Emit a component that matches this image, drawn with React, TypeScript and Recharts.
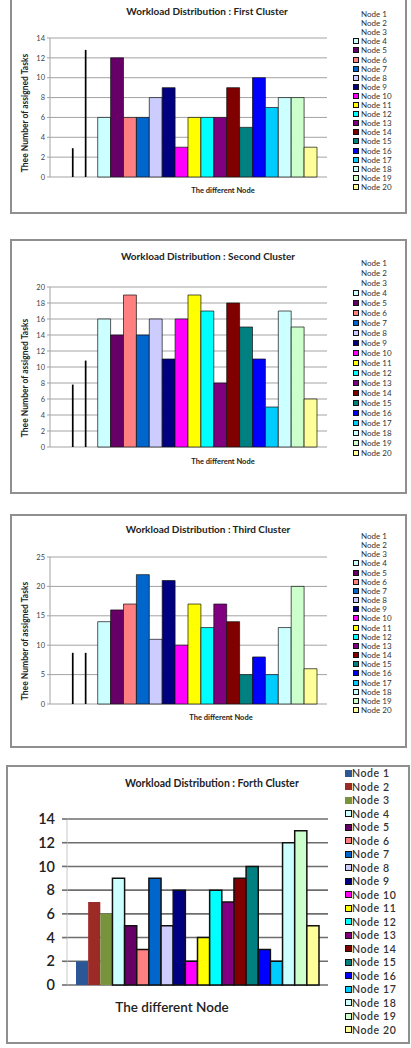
import React from 'react';
import { BarChart, Bar, XAxis, YAxis, CartesianGrid } from 'recharts';

const nodeNames = [
  'Node 1', 'Node 2', 'Node 3', 'Node 4', 'Node 5', 'Node 6', 'Node 7', 'Node 8', 'Node 9', 'Node 10',
  'Node 11', 'Node 12', 'Node 13', 'Node 14', 'Node 15', 'Node 16', 'Node 17', 'Node 18', 'Node 19', 'Node 20',
];

const nodeColors = [
  '#2b5797', '#9c2b27', '#77933c', '#ccffff', '#660066', '#ff8080', '#0066cc', '#ccccff', '#000080', '#ff00ff',
  '#ffff00', '#00ffff', '#800080', '#800000', '#008080', '#0000ff', '#00ccff', '#ccffff', '#ccffcc', '#ffff99',
];

// assigned tasks per node, one list per cluster
const firstCluster = [0, 2.9, 12.8, 6, 12, 6, 6, 8, 9, 3, 6, 6, 6, 9, 5, 10, 7, 8, 8, 3];
const secondCluster = [0, 7.8, 10.8, 16, 14, 19, 14, 16, 11, 16, 19, 17, 8, 18, 15, 11, 5, 17, 15, 6];
const thirdCluster = [0, 8.7, 8.7, 14, 16, 17, 22, 11, 21, 10, 17, 13, 17, 14, 5, 8, 5, 13, 20, 6];
const forthCluster = [2, 7, 6, 9, 5, 3, 9, 5, 8, 2, 4, 8, 7, 9, 10, 3, 2, 12, 13, 5];

const firstTicks = [0, 2, 4, 6, 8, 10, 12, 14];
const secondTicks = [0, 2, 4, 6, 8, 10, 12, 14, 16, 18, 20];
const thirdTicks = [0, 5, 10, 15, 20, 25];
const forthTicks = [0, 2, 4, 6, 8, 10, 12, 14];

const FONT = "Lato, 'Liberation Sans', Arial, sans-serif";

// nodes 1-3 show up only as a hairline in the first three clusters
const NodeLine = (props: any) => {
  const { x, y, height } = props;
  if (!height || height <= 0) return <g />;
  return <rect x={x} y={y} width={1.7} height={height} fill="#000" />;
};

type Caption = { text: string; x: number; y: number; size: number; rotate?: boolean; weight?: number };

function Label({ text, x, y, size, rotate, weight = 700 }: Caption) {
  return (
    <div
      style={{
        position: 'absolute',
        left: x,
        top: y,
        transform: `translate(-50%, -50%)${rotate ? ' rotate(-90deg)' : ''}`,
        whiteSpace: 'nowrap',
        fontFamily: FONT,
        fontSize: size,
        fontWeight: weight,
        color: '#222',
        lineHeight: 1,
      }}
    >
      {text}
    </div>
  );
}

type LegendCfg = { swatchX: number; textX: number; top: number; step: number; fontSize: number; swatch: number };

function NodeLegend({ cfg, allSwatches, heavy }: { cfg: LegendCfg; allSwatches: boolean; heavy: boolean }) {
  return (
    <>
      {nodeNames.map((name, i) => {
        const cy = cfg.top + i * cfg.step;
        const showSwatch = allSwatches || i >= 3;
        const border = i >= 3 ? (heavy ? 1.6 : 0.8) : 0;
        return (
          <React.Fragment key={name}>
            {showSwatch && (
              <div
                style={{
                  position: 'absolute',
                  left: cfg.swatchX,
                  top: cy - cfg.swatch / 2,
                  width: cfg.swatch,
                  height: cfg.swatch,
                  boxSizing: 'border-box',
                  background: nodeColors[i],
                  border: border ? `${border}px solid #111` : 'none',
                }}
              />
            )}
            <div
              style={{
                position: 'absolute',
                left: cfg.textX,
                top: cy,
                transform: 'translateY(-50%)',
                fontFamily: FONT,
                fontSize: cfg.fontSize,
                fontWeight: heavy ? 600 : 400,
                letterSpacing: heavy ? 0.6 : 0,
                color: '#333',
                lineHeight: 1,
                whiteSpace: 'nowrap',
              }}
            >
              {name}
            </div>
          </React.Fragment>
        );
      })}
    </>
  );
}

type PanelProps = {
  title: string;
  values: number[];
  ticks: number[];
  frame: { left: number; top: number; width: number; height: number };
  chartTop: number;
  chartHeight: number;
  plot: { left: number; right: number; top: number; bottom: number };
  barSize: number;
  title_: [number, number, number];
  xLabel: [number, number, number];
  yLabel?: [number, number, number];
  legend: LegendCfg;
  heavy: boolean;
};

function ClusterPanel(p: PanelProps) {
  const row: Record<string, number | string> = { name: 'cluster' };
  p.values.forEach((v, i) => {
    row[`n${i + 1}`] = v;
  });
  const yWidth = 30;
  const gridColor = p.heavy ? '#6e6e6e' : '#a3a3a3';
  const tickFont = p.heavy ? 14.5 : 7.5;

  return (
    <>
      <div
        style={{
          position: 'absolute',
          left: p.frame.left,
          top: p.frame.top,
          width: p.frame.width,
          height: p.frame.height,
          boxSizing: 'border-box',
          border: '2px solid #8f8f8f',
          background: '#fff',
        }}
      />
      <div style={{ position: 'absolute', left: 0, top: p.chartTop }}>
        <BarChart
          width={411}
          height={p.chartHeight}
          data={[row]}
          margin={{
            top: p.plot.top - p.chartTop,
            bottom: p.chartTop + p.chartHeight - p.plot.bottom,
            left: p.plot.left - yWidth,
            right: 411 - p.plot.right,
          }}
          barGap={0}
          barCategoryGap={0}
        >
          <CartesianGrid vertical={false} stroke={gridColor} strokeWidth={p.heavy ? 1.6 : 1} />
          <XAxis
            dataKey="name"
            height={0}
            tick={false}
            tickLine={false}
            axisLine={{ stroke: gridColor, strokeWidth: p.heavy ? 1.6 : 1 }}
          />
          <YAxis
            width={yWidth}
            domain={[0, p.ticks[p.ticks.length - 1]]}
            ticks={p.ticks}
            interval={0}
            tickSize={p.heavy ? 5 : 3}
            tickMargin={p.heavy ? 7 : 2}
            tickLine={{ stroke: gridColor, strokeWidth: p.heavy ? 1.6 : 1 }}
            axisLine={{ stroke: p.heavy ? '#c8c8c8' : gridColor }}
            tick={{ fontSize: tickFont, fill: p.heavy ? '#222' : '#444', fontFamily: FONT, fontWeight: p.heavy ? 600 : 400 }}
          />
          {nodeNames.map((name, i) => {
            const hairline = !p.heavy && i < 3;
            return (
              <Bar
                key={name}
                name={name}
                dataKey={`n${i + 1}`}
                barSize={p.barSize}
                fill={nodeColors[i]}
                stroke={p.heavy && i < 3 ? 'none' : '#111'}
                strokeWidth={p.heavy ? 1.5 : 0.7}
                shape={hairline ? NodeLine : undefined}
                isAnimationActive={false}
              />
            );
          })}
        </BarChart>
      </div>
      <Label text={p.title} x={p.title_[0]} y={p.title_[1]} size={p.title_[2]} />
      <Label text="The different Node" x={p.xLabel[0]} y={p.xLabel[1]} size={p.xLabel[2]} weight={p.heavy ? 600 : 700} />
      {p.yLabel && (
        <Label text="Thee Number of assigned Tasks" x={p.yLabel[0]} y={p.yLabel[1]} size={p.yLabel[2]} rotate />
      )}
      <NodeLegend cfg={p.legend} allSwatches={p.heavy} heavy={p.heavy} />
    </>
  );
}

export default function App() {
  return (
    <div style={{ position: 'absolute', left: 0, top: 0, width: 411, height: 1048, background: '#fff', overflow: 'hidden' }}>
      <ClusterPanel
        title="Workload Distribution : First Cluster"
        values={firstCluster}
        ticks={firstTicks}
        frame={{ left: 10, top: -4, width: 397, height: 218 }}
        chartTop={0}
        chartHeight={213}
        plot={{ left: 50, right: 327, top: 38, bottom: 177 }}
        barSize={12.9}
        title_={[207, 11, 10]}
        xLabel={[223, 191, 7.5]}
        yLabel={[25, 113, 8.5]}
        legend={{ swatchX: 353, textX: 361, top: 14, step: 9.1, fontSize: 8, swatch: 6 }}
        heavy={false}
      />
      <ClusterPanel
        title="Workload Distribution : Second Cluster"
        values={secondCluster}
        ticks={secondTicks}
        frame={{ left: 10, top: 239, width: 397, height: 255 }}
        chartTop={239}
        chartHeight={254}
        plot={{ left: 50, right: 327, top: 287, bottom: 447 }}
        barSize={12.9}
        title_={[208, 256, 10]}
        xLabel={[223, 462, 7.5]}
        yLabel={[25, 378, 8.5]}
        legend={{ swatchX: 353, textX: 361, top: 263, step: 10, fontSize: 8, swatch: 6 }}
        heavy={false}
      />
      <ClusterPanel
        title="Workload Distribution : Third Cluster"
        values={thirdCluster}
        ticks={thirdTicks}
        frame={{ left: 10, top: 514, width: 397, height: 234 }}
        chartTop={514}
        chartHeight={233}
        plot={{ left: 50, right: 327, top: 557, bottom: 704 }}
        barSize={12.9}
        title_={[208, 529, 10]}
        xLabel={[221, 718, 7.5]}
        yLabel={[25, 641, 8.5]}
        legend={{ swatchX: 353, textX: 361, top: 536, step: 9.16, fontSize: 8, swatch: 6 }}
        heavy={false}
      />
      <ClusterPanel
        title="Workload Distribution : Forth Cluster"
        values={forthCluster}
        ticks={forthTicks}
        frame={{ left: 6, top: 765, width: 404, height: 279 }}
        chartTop={765}
        chartHeight={278}
        plot={{ left: 67, right: 328, top: 819, bottom: 985 }}
        barSize={12.15}
        title_={[212, 783, 10.5]}
        xLabel={[172, 1008, 13.5]}
        legend={{ swatchX: 345, textX: 352, top: 773, step: 13.5, fontSize: 10.5, swatch: 7 }}
        heavy
      />
    </div>
  );
}
